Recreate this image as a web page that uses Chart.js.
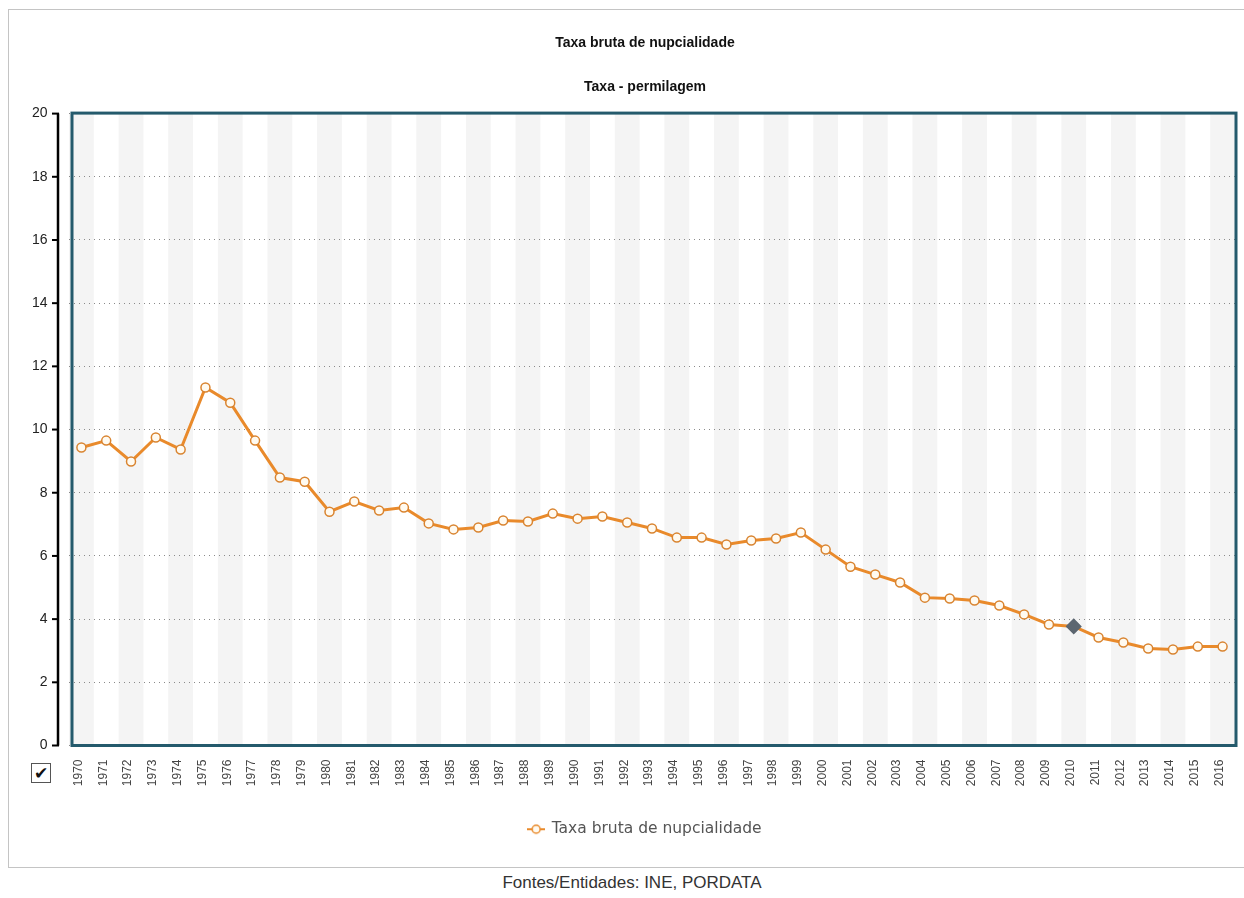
<!DOCTYPE html>
<html>
<head>
  <meta charset="utf-8" />
  <title>Taxa bruta de nupcialidade</title>
  <script src="https://cdn.jsdelivr.net/npm/chart.js@4.4.0/dist/chart.umd.min.js"></script>
  <style>
    body {
      margin: 0;
      background: #fff;
      font-family: "Liberation Sans", Arial, sans-serif;
    }
    #frame {
      position: absolute;
      left: 8px;
      top: 9px;
      width: 1250px;
      height: 857px;
      border: 1px solid #c4c4c4;
    }
    #chart {
      position: absolute;
      left: 0;
      top: 0;
    }
    #check {
      position: absolute;
      left: 31px;
      top: 763px;
      width: 18px;
      height: 18px;
      border: 1px solid #555;
      background: #fff;
      font: bold 17px "DejaVu Sans", sans-serif;
      line-height: 18px;
      text-align: center;
      color: #111;
    }
    #source {
      position: absolute;
      left: 0;
      top: 873px;
      width: 1264px;
      text-align: center;
      font-size: 17px;
      line-height: 20px;
      color: #333;
    }
  </style>
</head>
<body>
  <div id="frame"></div>
  <canvas id="chart" width="1244" height="868"></canvas>
  <div id="check">✔</div>
  <div id="source">Fontes/Entidades: INE, PORDATA</div>

  <script>
    // data (permilagem)
    const years = [
      '1970','1971','1972','1973','1974','1975','1976','1977','1978','1979',
      '1980','1981','1982','1983','1984','1985','1986','1987','1988','1989',
      '1990','1991','1992','1993','1994','1995','1996','1997','1998','1999',
      '2000','2001','2002','2003','2004','2005','2006','2007','2008','2009',
      '2010','2011','2012','2013','2014','2015','2016'
    ];
    const taxa = [
      9.43, 9.65, 8.99, 9.75, 9.37, 11.33, 10.85, 9.65, 8.48, 8.35,
      7.40, 7.72, 7.44, 7.53, 7.03, 6.84, 6.90, 7.12, 7.09, 7.34,
      7.18, 7.25, 7.06, 6.87, 6.58, 6.58, 6.36, 6.49, 6.55, 6.74,
      6.20, 5.66, 5.41, 5.16, 4.68, 4.65, 4.59, 4.43, 4.15, 3.83,
      3.77, 3.42, 3.26, 3.07, 3.04, 3.13, 3.13
    ];
    const yTicks = [0, 2, 4, 6, 8, 10, 12, 14, 16, 18, 20];
    const highlightYear = '2010';

    const orange = '#e98a2b';

    // little line+circle icon for the legend
    const legendIcon = document.createElement('canvas');
    legendIcon.width = 18;
    legendIcon.height = 12;
    (function () {
      const c = legendIcon.getContext('2d');
      c.strokeStyle = orange;
      c.lineWidth = 2;
      c.beginPath();
      c.moveTo(0, 6); c.lineTo(18, 6);
      c.stroke();
      c.beginPath();
      c.arc(9, 6, 4, 0, Math.PI * 2);
      c.fillStyle = '#fffaf0';
      c.fill();
      c.lineWidth = 1.5;
      c.stroke();
    })();

    // alternating light bands behind the plot
    const bandsPlugin = {
      id: 'bands',
      beforeDraw(chart) {
        const { ctx, chartArea: a, scales: { x } } = chart;
        ctx.save();
        ctx.fillStyle = '#fff';
        ctx.fillRect(a.left, a.top, a.right - a.left, a.bottom - a.top);
        const w = (a.right - a.left) / years.length;
        ctx.fillStyle = '#f4f4f4';
        years.forEach((y, i) => {
          if (i % 2 === 0) {
            const cx = x.getPixelForValue(i);
            ctx.fillRect(cx - w / 2, a.top, w, a.bottom - a.top);
          }
        });
        ctx.restore();
      }
    };

    // teal frame round the plot and the black y axis line with ticks
    const framePlugin = {
      id: 'frame',
      afterDraw(chart) {
        const { ctx, chartArea: a, scales: { y } } = chart;
        ctx.save();
        ctx.strokeStyle = '#245a6c';
        ctx.lineWidth = 3;
        ctx.strokeRect(a.left + 3, a.top - 0.5, a.right - a.left - 2, a.bottom - a.top + 0.5);

        const ax = a.left - 11;
        ctx.strokeStyle = '#000';
        ctx.lineWidth = 2.5;
        ctx.beginPath();
        ctx.moveTo(ax, y.getPixelForValue(20));
        ctx.lineTo(ax, y.getPixelForValue(0));
        ctx.stroke();
        ctx.lineWidth = 2;
        yTicks.forEach(v => {
          const py = y.getPixelForValue(v);
          ctx.beginPath();
          ctx.moveTo(ax - 6, py);
          ctx.lineTo(ax + 1, py);
          ctx.stroke();
        });
        ctx.restore();
      }
    };

    const isHi = ctx => years[ctx.dataIndex] === highlightYear;

    new Chart(document.getElementById('chart'), {
      type: 'line',
      data: {
        labels: years,
        datasets: [{
          label: 'Taxa bruta de nupcialidade',
          data: taxa,
          borderColor: orange,
          borderWidth: 3,
          tension: 0,
          pointStyle: ctx => isHi(ctx) ? 'rectRot' : 'circle',
          pointRadius: ctx => isHi(ctx) ? 7 : 4.5,
          pointBackgroundColor: ctx => isHi(ctx) ? '#5c6670' : '#fffaf0',
          pointBorderColor: ctx => isHi(ctx) ? '#5c6670' : '#d98430',
          pointBorderWidth: 1.5
        }]
      },
      options: {
        responsive: false,
        animation: false,
        layout: { padding: { top: 35, left: 55, right: 9, bottom: 21 } },
        scales: {
          x: {
            offset: true,
            grid: { display: false },
            border: { display: false },
            afterFit(scale) { scale.height = 66; },
            ticks: {
              autoSkip: false,
              minRotation: 90,
              maxRotation: 90,
              padding: 6,
              labelOffset: -3,
              color: '#444',
              font: { family: 'Liberation Sans', size: 12 }
            }
          },
          y: {
            min: 0,
            max: 20,
            afterFit(scale) { scale.width = 14; },
            grid: {
              color: '#8a8a8a',
              drawTicks: false,
              lineWidth: 1
            },
            border: { display: false, dash: [1, 4] },
            ticks: {
              stepSize: 2,
              // mirrored so the labels are not clipped to the narrow axis box,
              // then pulled back out to the left of the axis line
              mirror: true,
              crossAlign: 'far',
              padding: -37,
              color: '#222',
              font: { family: 'Liberation Sans', size: 14 }
            }
          }
        },
        plugins: {
          title: {
            display: true,
            text: 'Taxa bruta de nupcialidade',
            color: '#111',
            font: { family: 'Liberation Sans', size: 14, weight: 'bold' },
            padding: { top: 0, bottom: 13 }
          },
          subtitle: {
            display: true,
            text: 'Taxa - permilagem',
            color: '#111',
            font: { family: 'Liberation Sans', size: 14, weight: 'bold' },
            padding: { top: 14, bottom: 18 }
          },
          legend: {
            position: 'bottom',
            labels: {
              usePointStyle: true,
              color: '#555',
              font: { family: 'DejaVu Sans', size: 15.5 },
              generateLabels(chart) {
                const items = Chart.defaults.plugins.legend.labels.generateLabels(chart);
                items.forEach(it => { it.pointStyle = legendIcon; });
                return items;
              }
            }
          },
          tooltip: { enabled: false }
        }
      },
      plugins: [bandsPlugin, framePlugin]
    });
  </script>
</body>
</html>
